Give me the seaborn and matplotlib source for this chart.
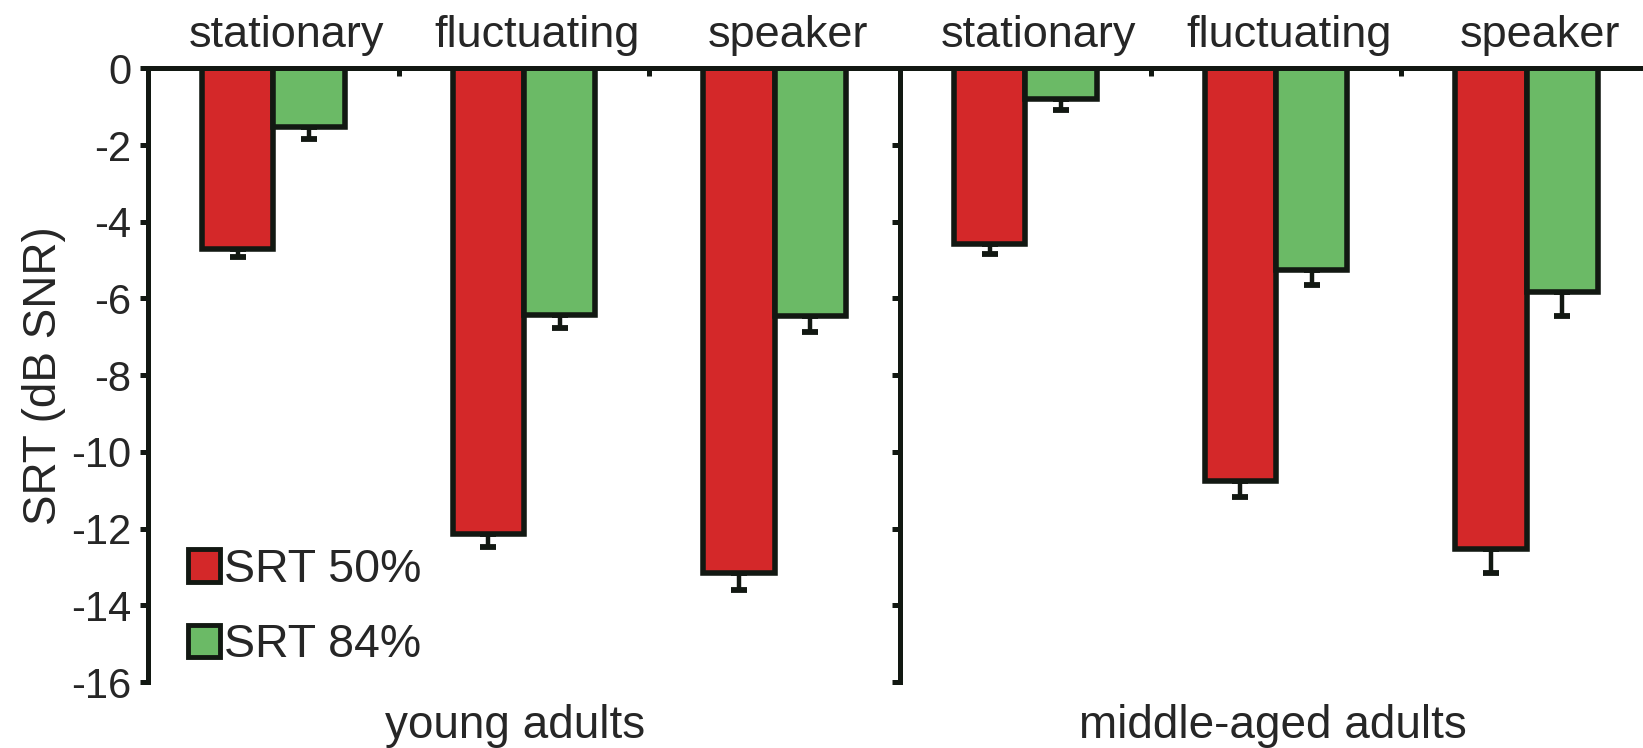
import numpy as np
import pandas as pd
import matplotlib
matplotlib.use("Agg")
import matplotlib.pyplot as plt
from matplotlib.patches import Patch
from matplotlib.ticker import FixedLocator
from matplotlib.transforms import ScaledTranslation
import seaborn as sns

# Speech reception thresholds (dB SNR), mean and standard error per condition
age_groups = ["young adults", "middle-aged adults"]
noise_types = ["stationary", "fluctuating", "speaker"]
levels = ["SRT 50%", "SRT 84%"]

young_srt50 = [-4.72, -12.15, -13.17]
young_srt84 = [-1.52, -6.42, -6.45]
young_se50 = [0.20, 0.32, 0.43]
young_se84 = [0.33, 0.36, 0.42]

middle_srt50 = [-4.57, -10.77, -12.52]
middle_srt84 = [-0.81, -5.26, -5.84]
middle_se50 = [0.27, 0.40, 0.63]
middle_se84 = [0.29, 0.39, 0.62]

y_ticks = list(range(-16, 1, 2))

rows = []
for grp, s50, s84, e50, e84 in [
    (age_groups[0], young_srt50, young_srt84, young_se50, young_se84),
    (age_groups[1], middle_srt50, middle_srt84, middle_se50, middle_se84),
]:
    for i, nt in enumerate(noise_types):
        rows.append(dict(group=grp, noise=nt, level=levels[0], srt=s50[i], se=e50[i]))
        rows.append(dict(group=grp, noise=nt, level=levels[1], srt=s84[i], se=e84[i]))
df = pd.DataFrame(rows)

RED = "#D42829"
GREEN = "#6BBA66"
INK = "#121812"

sns.set_style("ticks")
plt.rcParams["font.family"] = ["Liberation Sans", "DejaVu Sans"]
plt.rcParams["axes.unicode_minus"] = False

W, H = 1643, 748
fig = plt.figure(figsize=(W / 100, H / 100), dpi=100)

x0, xmid, xend = 148, 900, 1652
ytop, ybot = 68.3, 682
ax1 = fig.add_axes([x0 / W, 1 - ybot / H, (xmid - x0) / W, (ybot - ytop) / H])
ax2 = fig.add_axes([xmid / W, 1 - ybot / H, (xend - xmid) / W, (ybot - ytop) / H], sharey=ax1)

bar_width = 0.57
spine_w = 3.6
label_shift = ScaledTranslation(13 / 100, 0, fig.dpi_scale_trans)

for ax, grp in zip([ax1, ax2], age_groups):
    sub = df[df["group"] == grp]
    sns.barplot(
        data=sub, x="noise", y="srt", hue="level",
        order=noise_types, hue_order=levels,
        palette=[RED, GREEN], saturation=1, width=bar_width,
        edgecolor=INK, linewidth=4.0, errorbar=None, legend=False,
        ax=ax, zorder=3,
    )
    # one-sided error bars pointing away from the bars
    offsets = [-bar_width / 4, bar_width / 4]
    for lvl, off in zip(levels, offsets):
        part = sub[sub["level"] == lvl].set_index("noise").loc[noise_types]
        xs = np.arange(len(noise_types)) + off
        ax.errorbar(
            xs, part["srt"].values,
            yerr=[part["se"].values, np.zeros(len(xs))],
            fmt="none", ecolor=INK, elinewidth=3.2, capsize=5.5, capthick=4.2,
            zorder=2,
        )

    ax.set_xlim(-0.5, 2.5)
    ax.set_ylim(-16, 0)
    ax.set_yticks(y_ticks)
    for side in ["right", "bottom"]:
        ax.spines[side].set_visible(False)
    for side in ["left", "top"]:
        ax.spines[side].set_linewidth(spine_w)
        ax.spines[side].set_color(INK)
        ax.spines[side].set_zorder(4)

    ax.xaxis.tick_top()
    ax.set_xticks(range(len(noise_types)))
    ax.set_xticklabels(noise_types)
    ax.xaxis.set_minor_locator(FixedLocator([0.5, 1.5]))
    ax.tick_params(axis="x", which="major", length=0, pad=9, labelsize=32.5,
                   top=True, bottom=False, labeltop=True, labelbottom=False)
    ax.tick_params(axis="x", which="minor", length=6, width=spine_w, direction="in",
                   color=INK, top=True, bottom=False)
    ax.tick_params(axis="y", direction="out", length=6, width=spine_w, color=INK,
                   labelsize=30, pad=6)
    for lab in ax.get_xticklabels():
        lab.set_transform(lab.get_transform() + label_shift)
    ax.set_xlabel(grp, fontsize=33, labelpad=16)
    ax.xaxis.set_label_position("bottom")
    ax.set_facecolor("none")

ax1.xaxis.get_label().set_x(0.488)
ax2.xaxis.get_label().set_x(0.496)

ax1.set_ylabel("SRT (dB SNR)", fontsize=33, labelpad=4)
ax2.set_ylabel("")
ax2.tick_params(axis="y", labelleft=False)

handles = [Patch(facecolor=RED, edgecolor=INK, linewidth=3.5),
           Patch(facecolor=GREEN, edgecolor=INK, linewidth=3.5)]
ax1.legend(handles, levels, loc="lower left", bbox_to_anchor=(0.053, 0.024),
           frameon=False, fontsize=33.5, handlelength=0.7, handleheight=0.7,
           handletextpad=0.08, labelspacing=0.68, borderpad=0, borderaxespad=0)

fig.savefig("out.png", dpi=100, facecolor="white")
